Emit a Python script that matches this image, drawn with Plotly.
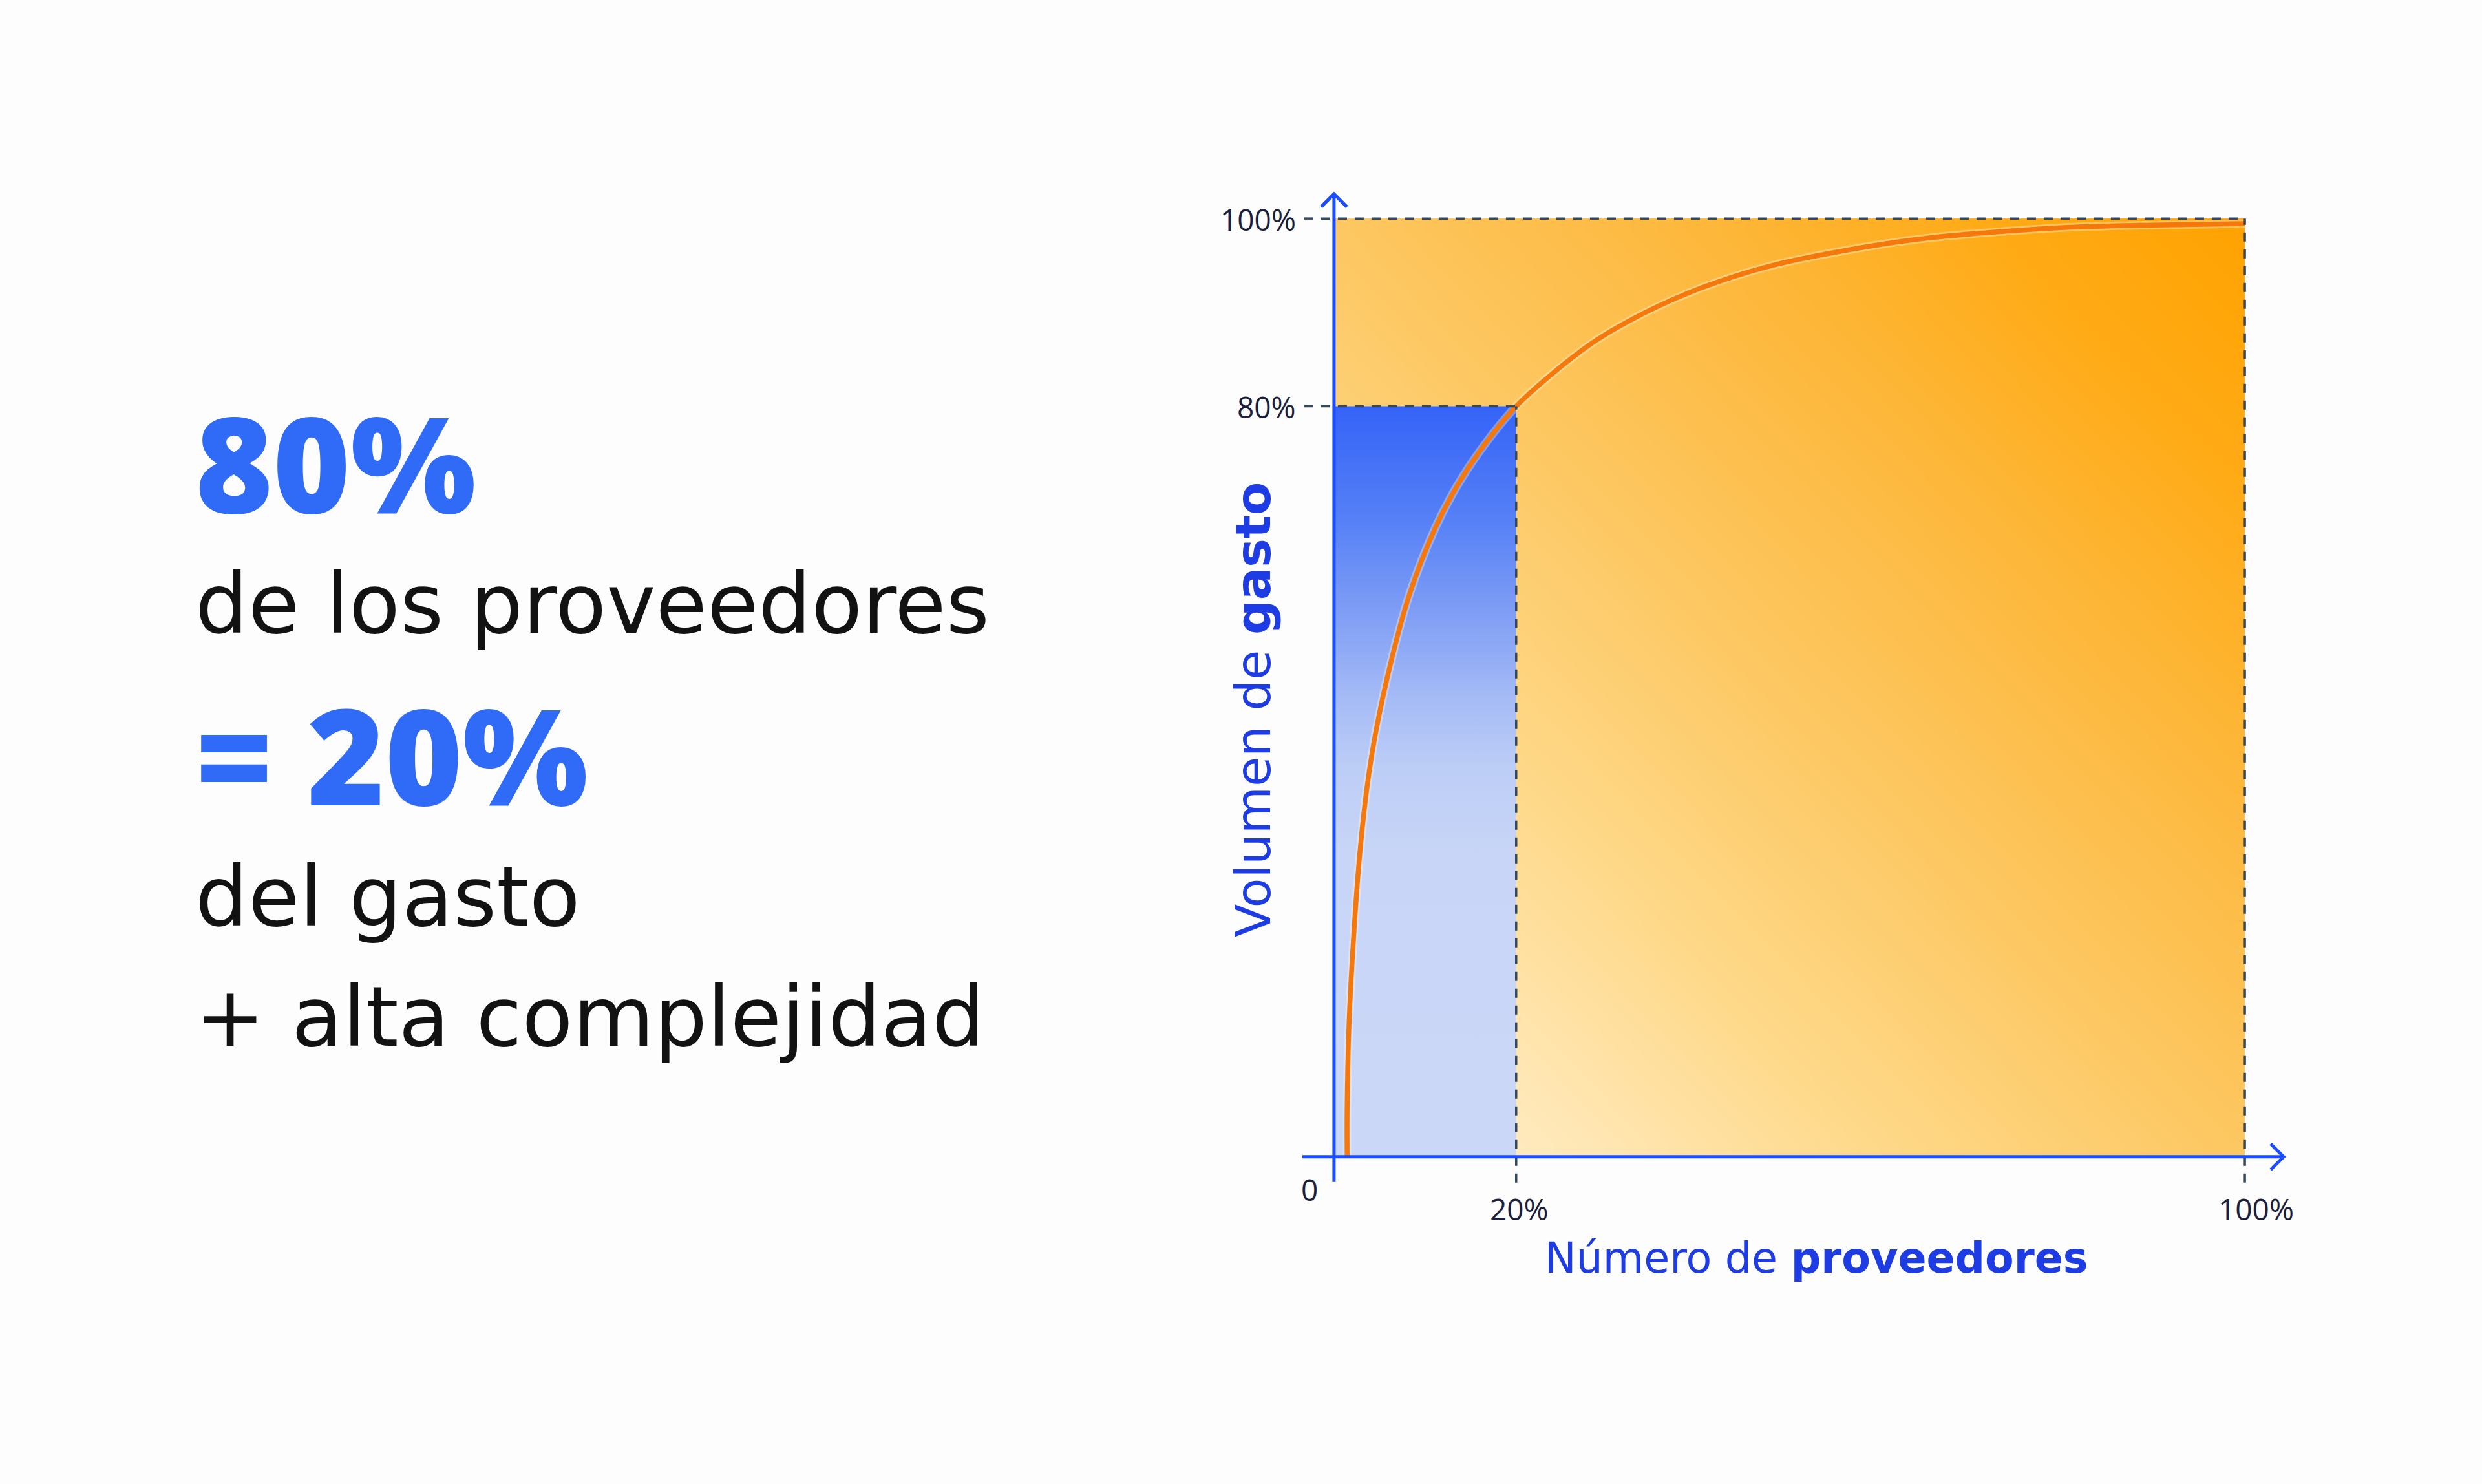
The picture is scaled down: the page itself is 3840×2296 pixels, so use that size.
import numpy as np
import plotly.graph_objects as go

# ---------------- data ----------------
curve_x = [0.0144, 0.0144, 0.0165, 0.0213, 0.0281, 0.0364, 0.0460, 0.0631, 0.0830, 0.1111, 0.1358, 0.1640,
           0.2000, 0.2402, 0.2877, 0.3385, 0.4044, 0.4774, 0.5755, 0.6535, 0.7351, 0.8174, 0.8998, 1.0000]
curve_y = [0.0000, 0.0522, 0.1416, 0.2309, 0.3210, 0.3952, 0.4536, 0.5299, 0.6000, 0.6701, 0.7162, 0.7574,
           0.8000, 0.8351, 0.8701, 0.8983, 0.9265, 0.9491, 0.9684, 0.9794, 0.9863, 0.9911, 0.9931, 0.9945]
pareto_x = 0.2          # share of suppliers
pareto_y = 0.8          # share of spend
x_tick_vals = [0.2, 1.0]
x_tick_text = ["20%", "100%"]
y_tick_vals = [0.8, 1.0]
y_tick_text = ["80%", "100%"]
origin_text = "0"
x_title = "Número de <b>proveedores</b>"
y_title = "Volumen de <b>gasto</b>"
left_lines = ["80%", "de los proveedores", "= 20%", "del gasto", "+ alta complejidad"]

# ---------------- geometry ----------------
W, H = 3840, 2296
X0, X1 = 2064, 3473     # pixel of x=0, x=1
Y0, Y1 = 1790, 338      # pixel of y=0, y=1
sx, sy = X1 - X0, Y0 - Y1
xr = [-0.1, 1.1]
yr = [-0.1, 1.08]
ml = X0 + xr[0] * sx
pw = (xr[1] - xr[0]) * sx
mr = W - ml - pw
mt = Y0 - yr[1] * sy
ph = (yr[1] - yr[0]) * sy
mb = H - mt - ph


def px(X):
    return (X - ml) / pw


def py(Y):
    return (H - mb - Y) / ph


def dx(p):
    return p / sx


def dy(p):
    return p / sy


FONT = "Open Sans"
FONT2 = "DejaVu Sans"
BLUE_AX = "#1B4DFF"
DASH = "#34485E"
TXT = "#1A1F3D"
TITLE_BLUE = "#1E3CE3"

fig = go.Figure()

# orange gradient background (style only)
n = 40
edges = np.linspace(0, 1, n + 1)
cent = (edges[:-1] + edges[1:]) / 2
zz = (cent[None, :] + cent[:, None]) / 2
fig.add_trace(go.Heatmap(
    x=edges, y=edges, z=zz, zsmooth="best", showscale=False, hoverinfo="skip",
    zmin=0, zmax=1,
    colorscale=[[0, "#FFF3D8"], [0.15, "#FFE6B3"], [0.3, "#FED98A"], [0.5, "#FDC761"],
                [0.7, "#FDB73A"], [0.85, "#FFAB17"], [1, "#FFA200"]],
))

# blue region (80% suppliers / 20% spend box)
fig.add_trace(go.Scatter(
    x=[0, pareto_x, pareto_x, 0, 0], y=[0, 0, pareto_y, pareto_y, 0],
    mode="lines", line=dict(width=0), fill="toself", hoverinfo="skip",
    fillgradient=dict(type="vertical", start=0, stop=pareto_y,
                      colorscale=[[0, "#CAD7F7"], [0.4, "#C8D5F6"], [0.52, "#BCCDF6"],
                                  [0.62, "#A2B9F5"], [0.73, "#7D9CF5"], [0.85, "#5580F6"],
                                  [1, "#3563F7"]]),
    showlegend=False,
))

# Pareto curve (soft halo + line)
fig.add_trace(go.Scatter(
    x=curve_x, y=curve_y, mode="lines",
    line=dict(color="rgba(255,250,235,0.35)", width=13, shape="spline", smoothing=1.0),
    hoverinfo="skip", showlegend=False,
))
fig.add_trace(go.Scatter(
    x=curve_x, y=curve_y, mode="lines",
    line=dict(color="#F4780C", width=7.5, shape="spline", smoothing=1.0),
    hoverinfo="skip", showlegend=False,
))

shapes = []
dash = "14px,12px"
# dashed guides
shapes.append(dict(type="line", xref="x", yref="y", x0=dx(2018 - X0), x1=1, y0=1, y1=1,
                   line=dict(color=DASH, width=3.5, dash=dash)))
shapes.append(dict(type="line", xref="x", yref="y", x0=dx(2018 - X0), x1=pareto_x, y0=pareto_y, y1=pareto_y,
                   line=dict(color=DASH, width=3.5, dash=dash)))
shapes.append(dict(type="line", xref="x", yref="y", x0=pareto_x, x1=pareto_x, y0=-dy(1830 - Y0), y1=pareto_y,
                   line=dict(color=DASH, width=3.5, dash=dash)))
shapes.append(dict(type="line", xref="x", yref="y", x0=1, x1=1, y0=-dy(1830 - Y0), y1=1,
                   line=dict(color=DASH, width=3.5, dash=dash)))
# axes
ytip = dy(Y0 - 300)
xtip = dx(3533 - X0)
shapes.append(dict(type="line", xref="x", yref="y", x0=0, x1=0, y0=-dy(1828 - Y0), y1=ytip,
                   line=dict(color=BLUE_AX, width=5)))
shapes.append(dict(type="line", xref="x", yref="y", x0=dx(2015 - X0), x1=xtip, y0=0, y1=0,
                   line=dict(color=BLUE_AX, width=5)))
# arrow heads (chevrons)
shapes.append(dict(type="path", xref="x", yref="y",
                   path=f"M {-dx(20)},{ytip - dy(20)} L 0,{ytip} L {dx(20)},{ytip - dy(20)}",
                   line=dict(color=BLUE_AX, width=5)))
shapes.append(dict(type="path", xref="x", yref="y",
                   path=f"M {xtip - dx(20)},{dy(20)} L {xtip},0 L {xtip - dx(20)},{-dy(20)}",
                   line=dict(color=BLUE_AX, width=5)))

ann = []
# tick labels
for v, t in zip(y_tick_vals, y_tick_text):
    ann.append(dict(xref="paper", yref="paper", x=px(2007), y=py(Y0 - v * sy + 1), text=t,
                    xanchor="right", yanchor="middle", showarrow=False,
                    font=dict(family=FONT, size=46, color=TXT)))
for v, t in zip(x_tick_vals, x_tick_text):
    ann.append(dict(xref="paper", yref="paper", x=px(X0 + v * sx + (17 if v == 1 else 5)), y=py(1870), text=t,
                    xanchor="center", yanchor="middle", showarrow=False,
                    font=dict(family=FONT, size=46, color=TXT)))
ann.append(dict(xref="paper", yref="paper", x=px(2026), y=py(1840), text=origin_text,
                xanchor="center", yanchor="middle", showarrow=False,
                font=dict(family=FONT, size=46, color=TXT)))
# axis titles
ann.append(dict(xref="paper", yref="paper", x=px(2810), y=py(1947), text=x_title,
                xanchor="center", yanchor="middle", showarrow=False,
                font=dict(family=FONT2, size=65, color=TITLE_BLUE)))
ann.append(dict(xref="paper", yref="paper", x=px(1939), y=py(1098), text=y_title, textangle=-90,
                xanchor="center", yanchor="middle", showarrow=False,
                font=dict(family=FONT2, size=75, color=TITLE_BLUE)))

# left text block
big = dict(family=FONT, size=205, color="#2F6BF7", weight=800)
small = dict(family=FONT2, size=129, color="#121212")
centers = [714, 934, 1167, 1387, 1573]
for i, (txt, c) in enumerate(zip(left_lines, centers)):
    f = big if i in (0, 2) else small
    ann.append(dict(xref="paper", yref="paper", x=px(300), y=py(c), text=txt,
                    xanchor="left", yanchor="middle", showarrow=False, font=f))

fig.update_layout(
    width=W, height=H,
    margin=dict(l=ml, r=mr, t=mt, b=mb, pad=0),
    paper_bgcolor="#FDFDFD", plot_bgcolor="rgba(0,0,0,0)",
    xaxis=dict(range=xr, visible=False, fixedrange=True),
    yaxis=dict(range=yr, visible=False, fixedrange=True),
    shapes=shapes, annotations=ann, showlegend=False,
)

fig.write_html("out.html", config={"displayModeBar": False},
               post_script="document.body.style.margin='0';document.body.style.overflow='hidden';")
